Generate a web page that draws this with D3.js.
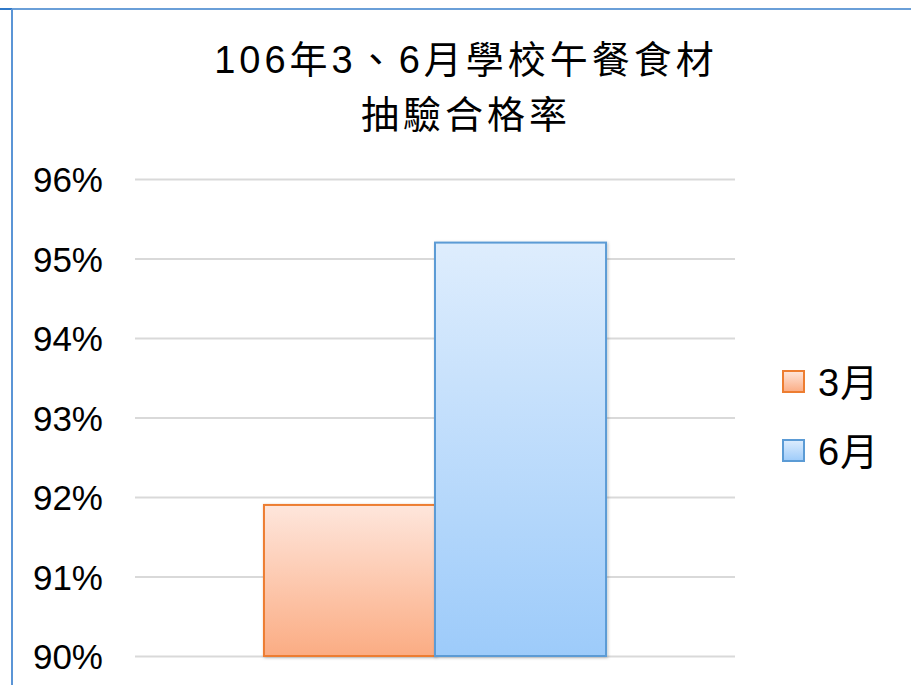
<!DOCTYPE html>
<html>
<head>
<meta charset="utf-8">
<script src="https://cdn.jsdelivr.net/npm/d3@7"></script>
<style>
  body { margin: 0; background: #fff; }
  svg text { font-family: "Liberation Sans", Arial, "Noto Sans CJK TC", sans-serif; }
</style>
</head>
<body>
<div class="chart"></div>
<script>
// data
const months = ['3月', '6月'];
const passRates = [0.919, 0.952];
const yTicks = [0.90, 0.91, 0.92, 0.93, 0.94, 0.95, 0.96];
const titleLines = ['106年3、6月學校午餐食材', '抽驗合格率'];

const width = 911;
const height = 685;

const colors = [
  { stroke: '#ed7d31', top: '#fee6dc', bottom: '#fbac83' },
  { stroke: '#5b9bd5', top: '#deedfd', bottom: '#9dcbfa' }
];

const svg = d3.select('.chart')
  .append('svg')
  .attr('width', width)
  .attr('height', height);

const defs = svg.append('defs');
colors.forEach((c, i) => {
  const g = defs.append('linearGradient')
    .attr('id', 'grad' + i)
    .attr('x1', 0).attr('y1', 0).attr('x2', 0).attr('y2', 1);
  g.append('stop').attr('offset', '0%').attr('stop-color', c.top);
  g.append('stop').attr('offset', '100%').attr('stop-color', c.bottom);
});
const shadow = defs.append('filter').attr('id', 'shadow')
  .attr('x', '-10%').attr('y', '-10%').attr('width', '120%').attr('height', '120%');
shadow.append('feDropShadow')
  .attr('dx', 1).attr('dy', 1).attr('stdDeviation', 1.5)
  .attr('flood-color', '#000').attr('flood-opacity', 0.25);

// frame lines of the slide
svg.append('line')
  .attr('x1', 0).attr('x2', width).attr('y1', 9).attr('y2', 9)
  .attr('stroke', '#6a9fd8').attr('stroke-width', 2);
svg.append('line')
  .attr('x1', 0).attr('x2', 12).attr('y1', 9).attr('y2', 9)
  .attr('stroke', '#2f78c8').attr('stroke-width', 2);
svg.append('line')
  .attr('x1', 12).attr('x2', 12).attr('y1', 9).attr('y2', height)
  .attr('stroke', '#5b95d6').attr('stroke-width', 2);

// title
svg.append('g').selectAll('text')
  .data(titleLines)
  .enter().append('text')
  .attr('x', 466)
  .attr('y', (d, i) => 73 + i * 55)
  .attr('text-anchor', 'middle')
  .attr('font-size', 38)
  .attr('letter-spacing', 4)
  .attr('fill', '#000')
  .text(d => d);

const plot = { left: 135, right: 735, top: 179, bottom: 656 };

const y = d3.scaleLinear()
  .domain([0.90, 0.96])
  .range([plot.bottom, plot.top]);

// single category, two series side by side
const x = d3.scaleBand()
  .domain(['all'])
  .range([plot.left, plot.right])
  .paddingInner(0)
  .paddingOuter(0.377);

const xSeries = d3.scaleBand()
  .domain(months)
  .range([0, x.bandwidth()]);

// gridlines
svg.append('g')
  .attr('transform', `translate(${plot.left},0)`)
  .call(d3.axisLeft(y)
    .tickValues(yTicks)
    .tickSize(-(plot.right - plot.left))
    .tickFormat(''))
  .call(g => g.select('.domain').remove())
  .call(g => g.selectAll('.tick line').attr('stroke', '#d9d9d9').attr('stroke-width', 2));

// tick labels
svg.append('g')
  .attr('transform', 'translate(103,0)')
  .call(d3.axisLeft(y)
    .tickValues(yTicks)
    .tickSize(0)
    .tickPadding(0)
    .tickFormat(d3.format('.0%')))
  .call(g => g.select('.domain').remove())
  .call(g => g.selectAll('.tick text')
    .attr('font-size', 35)
    .attr('fill', '#000')
    .attr('dy', '0.36em')
    .style('font-family', '"Liberation Sans", Arial, sans-serif'));

// bars
svg.append('g')
  .selectAll('rect')
  .data(passRates)
  .enter().append('rect')
  .attr('x', (d, i) => x('all') + xSeries(months[i]))
  .attr('y', d => y(d))
  .attr('width', xSeries.bandwidth())
  .attr('height', d => y(0.90) - y(d))
  .attr('fill', (d, i) => `url(#grad${i})`)
  .attr('stroke', (d, i) => colors[i].stroke)
  .attr('stroke-width', 2)
  .attr('filter', 'url(#shadow)');

// legend
const legend = svg.append('g')
  .selectAll('g')
  .data(months)
  .enter().append('g')
  .attr('transform', (d, i) => `translate(783,${371 + i * 69})`);

legend.append('rect')
  .attr('width', 21)
  .attr('height', 21)
  .attr('fill', (d, i) => `url(#grad${i})`)
  .attr('stroke', (d, i) => colors[i].stroke)
  .attr('stroke-width', 2);

legend.append('text')
  .attr('x', 35)
  .attr('y', 25)
  .attr('font-size', 38)
  .attr('letter-spacing', 1)
  .attr('fill', '#000')
  .text(d => d);
</script>
</body>
</html>
